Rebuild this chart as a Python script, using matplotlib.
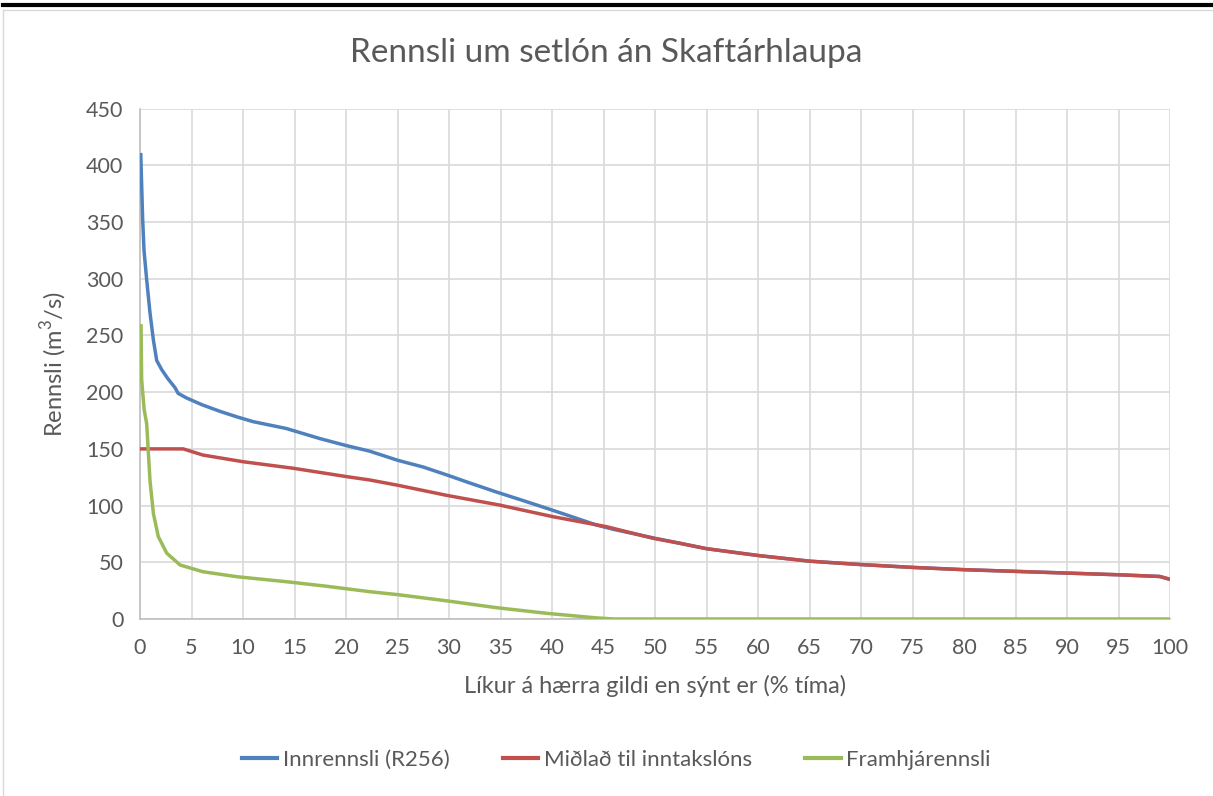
import matplotlib.pyplot as plt
from matplotlib.lines import Line2D

# Rennslislína - lesið af myndinni
x_inn = [0.07, 0.26, 0.39, 0.65, 0.97, 1.3, 1.62, 2.1, 2.7, 3.4, 3.7, 4.5, 6.0, 7.8, 9.5,
         11.0, 14.2, 17.5, 20.0, 22.3, 25.0, 27.5, 29.8, 32.0, 34.6, 37.0, 39.5, 42.0, 44.3, 46.0,
         50.0, 52.4, 55, 60, 65, 70, 75, 80, 85, 90, 95, 99, 100]
y_inn = [411, 352, 325, 299, 270, 246, 228, 220, 212, 204, 199, 195, 189, 183, 178,
         174, 168, 159, 153, 148, 140, 134, 127, 120, 112, 105, 97.6, 90, 82.9, 79,
         71.2, 66.8, 62, 56, 51, 48, 45.5, 43.5, 42, 40.5, 39, 37.5, 35]

x_mid = [0, 4.2, 6.1, 10.0, 14.9, 20.1, 22.3, 25.0, 29.8, 34.9, 40.1, 45.3, 49.8, 52.4,
         55, 60, 65, 70, 75, 80, 85, 90, 95, 99, 100]
y_mid = [150, 150, 144.6, 138.7, 132.9, 125.5, 122.6, 118, 109, 100.5, 90.2, 81.4, 71.2, 66.8,
         62, 56, 51, 48, 45.5, 43.5, 42, 40.5, 39, 37.5, 35]

x_fram = [0.1, 0.16, 0.4, 0.65, 0.97, 1.3, 1.78, 2.6, 3.9, 6.1, 9.4, 14.2, 18.0, 22.3,
          25.0, 29.8, 34.6, 39.5, 44.3, 46.0, 100]
y_fram = [260, 211, 185, 172, 122, 93, 72.6, 58, 47.6, 41.7, 37.3, 32.9, 29, 24.1,
          21.5, 16, 10, 5, 1, 0, 0]

titill = "Rennsli um setlón án Skaftárhlaupa"
x_heiti = "Líkur á hærra gildi en sýnt er (% tíma)"
y_heiti = "Rennsli (m$^3$/s)"
nofn = ["Innrennsli (R256)", "Miðlað til inntakslóns", "Framhjárennsli"]
litir = ["#4F81BD", "#C0504D", "#9BBB59"]

plt.rcParams["font.family"] = ["Lato", "DejaVu Sans"]
plt.rcParams["mathtext.fontset"] = "custom"
plt.rcParams["mathtext.rm"] = "Lato"
txt = "#595959"

fig = plt.figure(figsize=(12.13, 7.96), dpi=100)
ax = fig.add_axes([140 / 1213, 1 - 619 / 796, 1030 / 1213, (619 - 108.7) / 796])

ax.plot(x_inn, y_inn, color=litir[0], lw=2.5, solid_capstyle="butt", zorder=3)
ax.plot(x_mid, y_mid, color=litir[1], lw=2.5, solid_capstyle="butt", zorder=4)
ax.plot(x_fram, y_fram, color=litir[2], lw=2.5, solid_capstyle="butt", zorder=5)

ax.set_xlim(0, 100)
ax.set_ylim(0, 450)
ax.set_xticks(range(0, 101, 5))
ax.set_yticks(range(0, 451, 50))
ax.grid(True, color="#D9D9D9", lw=1.2)
ax.set_axisbelow(True)
for s in ["top", "right"]:
    ax.spines[s].set_visible(False)
for s in ["left", "bottom"]:
    ax.spines[s].set_color("#BFBFBF")
    ax.spines[s].set_linewidth(1.2)
ax.tick_params(axis="both", length=0, labelsize=15.5, colors=txt)
ax.tick_params(axis="x", pad=14)
ax.tick_params(axis="y", pad=12)

ax.set_xlabel(x_heiti, fontsize=17, color=txt, labelpad=12)
ax.set_ylabel(y_heiti, fontsize=17, color=txt, labelpad=12)
fig.text(0.5, 1 - 53 / 796, titill, ha="center", va="center", fontsize=24, color=txt)

handles = [Line2D([], [], color=c, lw=3) for c in litir]
fig.legend(handles, nofn, loc="center", bbox_to_anchor=(0.508, 1 - 760 / 796), ncol=3,
           frameon=False, fontsize=16, labelcolor=txt, handlelength=1.6,
           handletextpad=0.25, columnspacing=2.4)

# rammi
fig.add_artist(Line2D([3 / 1213, 1], [1 - 5 / 796, 1 - 5 / 796], color="black", lw=3,
                      transform=fig.transFigure))
fig.add_artist(Line2D([3 / 1213, 1], [1 - 9.5 / 796, 1 - 9.5 / 796], color="#D9D9D9", lw=1,
                      transform=fig.transFigure))
fig.add_artist(Line2D([3 / 1213, 3 / 1213], [0, 1 - 9.5 / 796], color="#D9D9D9", lw=1,
                      transform=fig.transFigure))

fig.savefig("out.png", dpi=100)
